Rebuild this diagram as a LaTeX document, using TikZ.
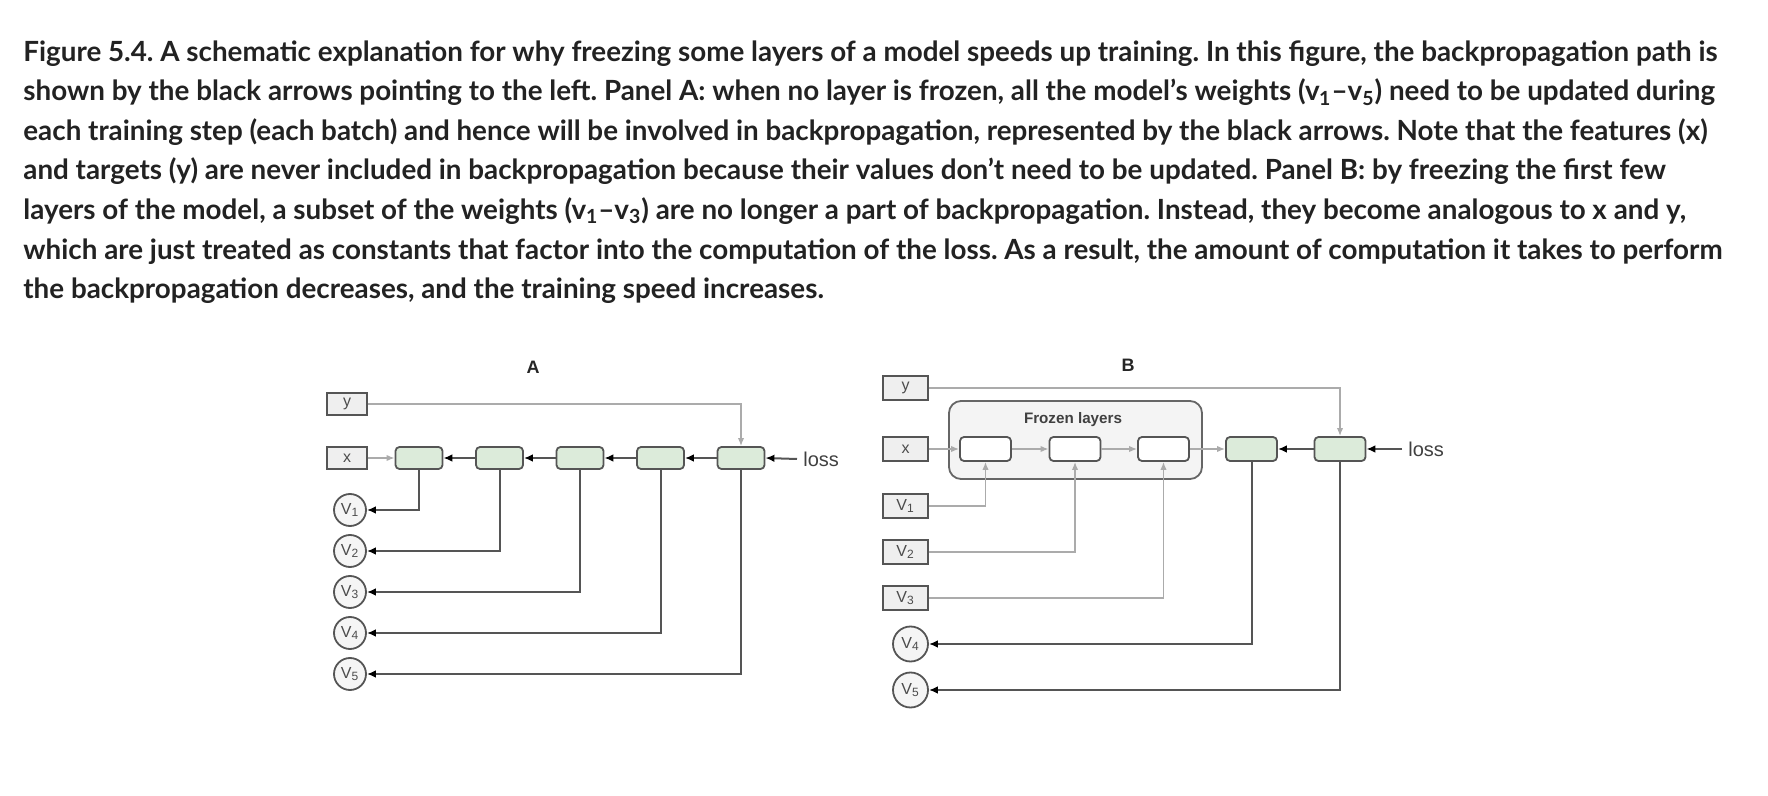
\documentclass[tikz,border=0pt]{standalone}
\usepackage{fontspec}
\setmainfont{Lato}
\newfontfamily\labelfont{Liberation Sans}
\usetikzlibrary{arrows.meta}
\definecolor{layergreen}{HTML}{DCEBDA}
\definecolor{edgegray}{HTML}{555555}
\definecolor{fwdgray}{HTML}{ABABAB}
\definecolor{constgray}{HTML}{EFEFEF}
\definecolor{frozenfill}{HTML}{F4F4F4}
\definecolor{captext}{HTML}{222222}
\frenchspacing
\begin{document}
\begin{tikzpicture}[x=0.5pt, y=-0.5pt,
  caption/.style={anchor=base west, inner sep=0pt, text=captext,
    font=\fontsize{13.9}{16}\selectfont\bfseries},
  panel/.style={font=\labelfont\fontsize{9}{10}\selectfont\bfseries, text=black!85},
  const/.style={draw=edgegray, fill=constgray, line width=0.9pt, inner sep=0pt,
    font=\labelfont\fontsize{8}{9}\selectfont, text=black!70},
  weight/.style={circle, draw=edgegray, fill=white!96!black, line width=0.9pt, inner sep=0pt,
    font=\labelfont\fontsize{8}{9}\selectfont, text=black!70},
  layer/.style={draw=edgegray, fill=layergreen, line width=0.9pt, rounded corners=2pt, inner sep=0pt},
  frozen/.style={layer, fill=white},
  losslabel/.style={anchor=west, inner sep=0pt, inner xsep=3pt, font=\labelfont\fontsize{10}{11}\selectfont, text=black!75},
  back/.style={draw=edgegray, line width=1pt, -{Latex[length=4.5pt,width=3.8pt,color=black]}},
  fwd/.style={draw=fwdgray, line width=0.75pt, -{Latex[length=4pt,width=3.2pt]}}]
\useasboundingbox (0,0) rectangle (1768,796);

\node[caption] (cap1) at (23,61.5) {Figure 5.4. A schematic explanation for why freezing some layers of a model speeds up training. In this figure, the backpropagation path is};
\node[caption] (cap2) at (23,101) {shown by the black arrows pointing to the left. Panel A: when no layer is frozen, all the model’s weights (v\textsubscript{1}–v\textsubscript{5}) need to be updated during};
\node[caption] (cap3) at (23,140.5) {each training step (each batch) and hence will be involved in backpropagation, represented by the black arrows. Note that the features (x)};
\node[caption] (cap4) at (23,180) {and targets (y) are never included in backpropagation because their values don’t need to be updated. Panel B: by freezing the first few};
\node[caption] (cap5) at (23,219.5) {layers of the model, a subset of the weights (v\textsubscript{1}–v\textsubscript{3}) are no longer a part of backpropagation. Instead, they become analogous to x and y,};
\node[caption] (cap6) at (23,260) {which are just treated as constants that factor into the computation of the loss. As a result, the amount of computation it takes to perform};
\node[caption] (cap7) at (23,299) {the backpropagation decreases, and the training speed increases.};

% panel A: nothing frozen
\node[panel] (titleA) at (533,367) {A};
\node[const, minimum width=20pt, minimum height=11pt] (yA) at (347,404) {y};
\node[const, minimum width=20pt, minimum height=11pt] (xA) at (347,458) {x};
\foreach \i in {1,...,5} {
  \node[layer, minimum width=23.5pt, minimum height=11pt] (gA\i) at ({419+80.5*(\i-1)},458) {};
  \node[weight, minimum size=16pt] (vA\i) at (350,{510+41*(\i-1)}) {V\textsubscript{\i}};
  \draw[back] (gA\i.south) |- (vA\i.east);
}
\node[losslabel] (lossA) at (797,459) {loss};
\draw[back] (lossA.west) -- (gA5.east);
\foreach \i/\j in {2/1,3/2,4/3,5/4}
  \draw[back] (gA\i.west) -- (gA\j.east);
\draw[fwd] (xA.east) -- (gA1.west);
\draw[fwd] (yA.east) -| (gA5.north);

% panel B: first three layers frozen
\node[panel] (titleB) at (1128,365) {B};
\draw[draw=edgegray!90, fill=frozenfill, line width=0.9pt, rounded corners=6pt] (949,401) rectangle (1202,479);
\node[font=\labelfont\fontsize{7.6}{9}\selectfont\bfseries, text=black!75] (frozenlabel) at (1073,420) {Frozen layers};
\node[const, minimum width=22.5pt, minimum height=12pt] (yB) at (905.5,388) {y};
\node[const, minimum width=22.5pt, minimum height=12pt] (xB) at (905.5,449) {x};
\foreach \i/\x in {1/985.5,2/1075,3/1163.5} {
  \node[frozen, minimum width=25.5pt, minimum height=12pt] (fB\i) at (\x,449) {};
  \node[const, minimum width=22.5pt, minimum height=12pt] (vB\i) at (905.5,{506+46*(\i-1)}) {V\textsubscript{\i}};
  \draw[fwd] (vB\i.east) -| (fB\i.south);
}
\node[layer, minimum width=25.5pt, minimum height=12pt] (gB4) at (1251.5,449) {};
\node[layer, minimum width=25.5pt, minimum height=12pt] (gB5) at (1340,449) {};
\node[weight, minimum size=17.5pt] (vB4) at (910.5,644) {V\textsubscript{4}};
\node[weight, minimum size=17.5pt] (vB5) at (910.5,690) {V\textsubscript{5}};
\draw[fwd] (xB.east) -- (fB1.west);
\draw[fwd] (fB1.east) -- (fB2.west);
\draw[fwd] (fB2.east) -- (fB3.west);
\draw[fwd] (fB3.east) -- (gB4.west);
\draw[fwd] (yB.east) -| (gB5.north);
\node[losslabel] (lossB) at (1402,449) {loss};
\draw[back] (lossB.west) -- (gB5.east);
\draw[back] (gB5.west) -- (gB4.east);
\draw[back] (gB4.south) |- (vB4.east);
\draw[back] (gB5.south) |- (vB5.east);
\end{tikzpicture}
\end{document}
